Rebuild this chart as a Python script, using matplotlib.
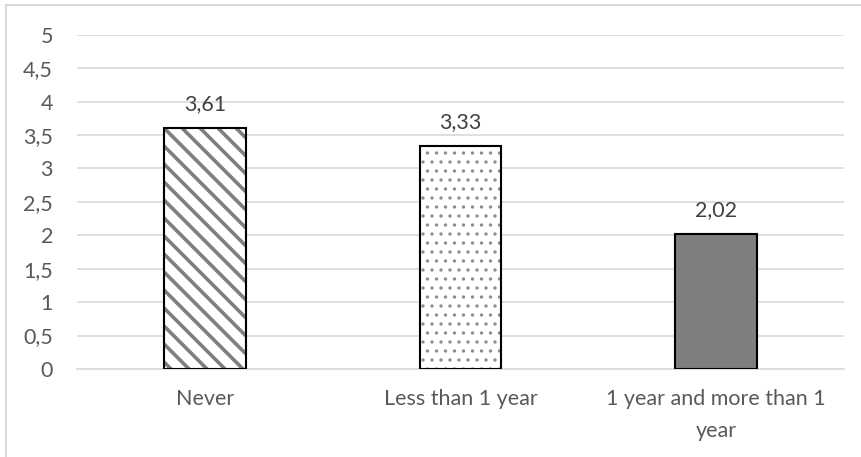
import matplotlib
matplotlib.use("Agg")
import matplotlib.pyplot as plt
from matplotlib.patches import Rectangle
from matplotlib.ticker import FuncFormatter, MultipleLocator

categories = ["Never", "Less than 1 year", "1 year and more than 1\nyear"]
values = [3.61, 3.33, 2.02]
value_labels = ["3,61", "3,33", "2,02"]
hatches = ["\\\\", "..", ""]
fills = ["white", "white", "#7f7f7f"]
hatch_colors = ["#7f7f7f", "#8c8c8c", "#7f7f7f"]
hatch_lw = [2.4, 1.0, 1.0]

plt.rcParams['font.family'] = ['Lato', 'DejaVu Sans']

DPI = 108
FS = 14.3
fig = plt.figure(figsize=(861/DPI, 457/DPI), dpi=DPI)
ax = fig.add_axes([77/861, 1-369/457, (844-77)/861, (369-34.7)/457])

x = list(range(len(categories)))
w = 0.32
for i in x:
    with plt.rc_context({'hatch.linewidth': hatch_lw[i]}):
        ax.bar(i, values[i], width=w, color=fills[i], hatch=hatches[i],
               edgecolor=hatch_colors[i], linewidth=0, zorder=2)
    ax.bar(i, values[i], width=w, fill=False, edgecolor="black",
           linewidth=1.4, zorder=3)
    ax.annotate(value_labels[i], (i, values[i]), xytext=(0, 12),
                textcoords="offset points", ha="center", va="baseline",
                fontsize=FS, color="#404040")

ax.set_xlim(-0.5, 2.5)
ax.set_ylim(0, 5)
ax.yaxis.set_major_locator(MultipleLocator(0.5))
ax.yaxis.set_major_formatter(FuncFormatter(lambda v, p: ("%g" % v).replace(".", ",")))
ax.set_xticks(x)
ax.set_xticklabels(categories, linespacing=1.75)
ax.tick_params(axis="both", length=0, labelsize=FS, labelcolor="#595959")
ax.tick_params(axis="y", pad=16)
ax.tick_params(axis="x", pad=13)
ax.grid(axis="y", color="#d9d9d9", linewidth=1.1, zorder=0)
ax.set_axisbelow(True)
for s in ["top", "right", "left"]:
    ax.spines[s].set_visible(False)
ax.spines["bottom"].set_color("#d9d9d9")
ax.spines["bottom"].set_linewidth(1.1)

fig.patches.append(Rectangle((6/861, -0.1), 1.0, 1-5/457+0.1, transform=fig.transFigure,
                             fill=False, edgecolor="#d9d9d9", linewidth=1.4, zorder=-1))

fig.savefig("out.png", dpi=DPI)
